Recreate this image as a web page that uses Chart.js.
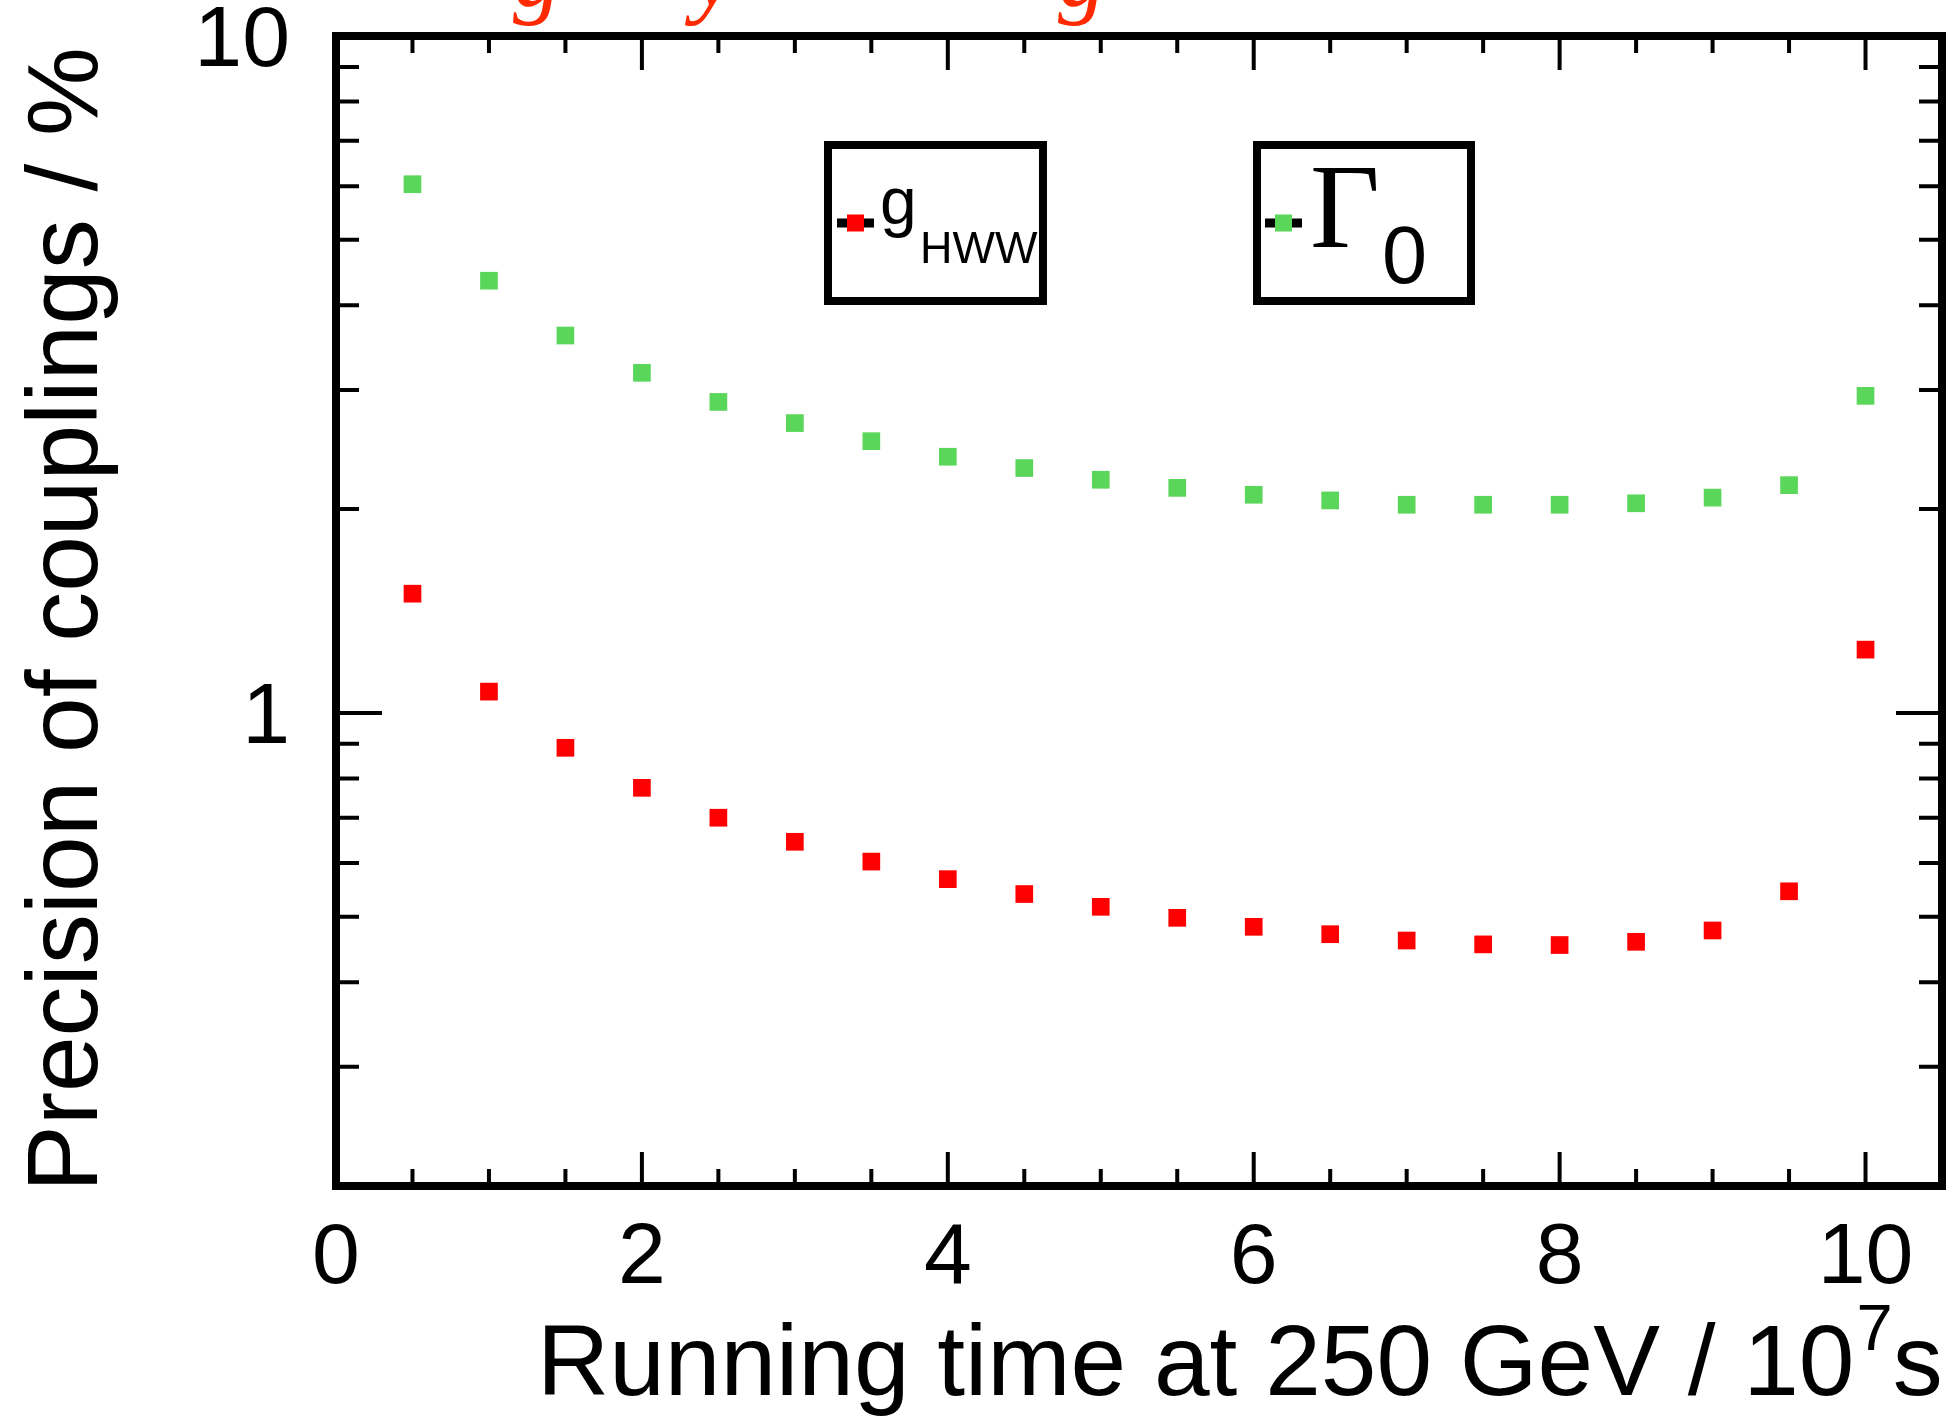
<!DOCTYPE html>
<html>
<head>
<meta charset="utf-8">
<script src="https://cdn.jsdelivr.net/npm/chart.js@4.4.0/dist/chart.umd.min.js"></script>
<style>
  html, body { margin: 0; padding: 0; background: #fff; }
  #plot { display: block; }
</style>
</head>
<body>
<canvas id="plot" width="1957" height="1417"></canvas>
<script>
// running time at 250 GeV, in units of 10^7 s
const runTime = [0.5, 1, 1.5, 2, 2.5, 3, 3.5, 4, 4.5, 5, 5.5, 6, 6.5, 7, 7.5, 8, 8.5, 9, 9.5, 10];
// precision in %
const gHWW   = [1.50, 1.075, 0.888, 0.775, 0.70, 0.645, 0.603, 0.568, 0.540, 0.517,
                0.498, 0.483, 0.471, 0.461, 0.455, 0.454, 0.459, 0.477, 0.545, 1.24];
const gamma0 = [6.04, 4.35, 3.61, 3.18, 2.88, 2.68, 2.52, 2.39, 2.30, 2.21,
                2.15, 2.10, 2.06, 2.03, 2.03, 2.03, 2.04, 2.08, 2.17, 2.94];

const xTicks = [0, 2, 4, 6, 8, 10];
const xMinor = [0.5, 1, 1.5, 2.5, 3, 3.5, 4.5, 5, 5.5, 6.5, 7, 7.5, 8.5, 9, 9.5, 10.5];
const yTicks = [1, 10];
const yMinor = [0.2, 0.3, 0.4, 0.5, 0.6, 0.7, 0.8, 0.9, 2, 3, 4, 5, 6, 7, 8, 9];

const RED = '#ff0000';
const GREEN = '#5ad65a';
const SANS = '"Liberation Sans", Arial, sans-serif';
const SERIF = '"Liberation Serif", "Times New Roman", serif';

// frame, inward ticks, titles, legend boxes
const decor = {
  id: 'decor',
  afterDraw(chart) {
    const ctx = chart.ctx;
    const a = chart.chartArea;
    const x = chart.scales.x, y = chart.scales.y;
    ctx.save();
    ctx.strokeStyle = '#000';

    // ticks
    ctx.lineWidth = 4;
    ctx.beginPath();
    const tx = (v, len) => {
      const px = x.getPixelForValue(v);
      ctx.moveTo(px, a.bottom); ctx.lineTo(px, a.bottom - len);
      ctx.moveTo(px, a.top); ctx.lineTo(px, a.top + len);
    };
    const ty = (v, len) => {
      const py = y.getPixelForValue(v);
      ctx.moveTo(a.left, py); ctx.lineTo(a.left + len, py);
      ctx.moveTo(a.right, py); ctx.lineTo(a.right - len, py);
    };
    xTicks.forEach(v => tx(v, 34));
    xMinor.forEach(v => tx(v, 17));
    yTicks.forEach(v => ty(v, 46));
    yMinor.forEach(v => ty(v, 23));
    ctx.stroke();

    // frame
    ctx.lineWidth = 8;
    ctx.strokeRect(a.left, a.top, a.right - a.left, a.bottom - a.top);

    // axis titles
    ctx.fillStyle = '#000';
    ctx.textBaseline = 'alphabetic';
    ctx.textAlign = 'left';
    ctx.font = '100px ' + SANS;
    let t = 'Running time at 250 GeV / 10';
    let xs = 537;
    ctx.fillText(t, xs, 1395);
    xs += ctx.measureText(t).width + 2;
    ctx.font = '65px ' + SANS;
    ctx.fillText('7', xs, 1350);
    xs += ctx.measureText('7').width;
    ctx.font = '100px ' + SANS;
    ctx.fillText('s', xs, 1395);

    ctx.save();
    ctx.translate(97, 1192);
    ctx.rotate(-Math.PI / 2);
    ctx.fillText('Precision of couplings / %', 0, 0);
    ctx.restore();

    // legend boxes
    ctx.lineWidth = 8;
    ctx.strokeRect(828, 145, 215, 156);
    ctx.strokeRect(1257, 145, 214, 156);
    const sym = (x0, x1, col) => {
      ctx.lineWidth = 9;
      ctx.beginPath(); ctx.moveTo(x0, 223); ctx.lineTo(x1, 223); ctx.stroke();
      const c = (x0 + x1) / 2;
      ctx.fillStyle = col;
      ctx.fillRect(c - 8.5, 223 - 8.5, 17, 17);
      ctx.fillStyle = '#000';
    };
    sym(837, 874, chart.data.datasets[0].backgroundColor);
    sym(1265, 1302, chart.data.datasets[1].backgroundColor);
    ctx.font = '66px ' + SANS;
    ctx.fillText('g', 880, 224);
    ctx.font = '45px ' + SANS;
    ctx.fillText('HWW', 920, 263);
    ctx.font = '121px ' + SERIF;
    ctx.fillText('\u0393', 1310, 247);
    ctx.font = '81px ' + SANS;
    ctx.fillText('0', 1382, 283);

    // cut-off red caption above the frame
    ctx.fillStyle = '#ff2a00';
    ctx.font = 'italic 96px ' + SERIF;
    ctx.fillText('g', 513, 6);
    ctx.fillText('y', 693, 6);
    ctx.fillText('g', 1058, 6);
    ctx.restore();
  }
};

new Chart(document.getElementById('plot'), {
  type: 'scatter',
  data: {
    datasets: [
      { label: 'gHWW', data: runTime.map((t, i) => ({ x: t, y: gHWW[i] })),
        backgroundColor: RED, borderWidth: 0, pointStyle: 'rect', pointRadius: 12.5, pointHoverRadius: 12.5 },
      { label: 'Gamma0', data: runTime.map((t, i) => ({ x: t, y: gamma0[i] })),
        backgroundColor: GREEN, borderWidth: 0, pointStyle: 'rect', pointRadius: 12.5, pointHoverRadius: 12.5 }
    ]
  },
  options: {
    responsive: false,
    animation: false,
    devicePixelRatio: 1,
    layout: { padding: { top: 36, right: 15, left: 0, bottom: 0 } },
    plugins: { legend: { display: false }, tooltip: { enabled: false } },
    scales: {
      x: {
        type: 'linear', min: 0, max: 10.5,
        grid: { display: false, drawTicks: false },
        border: { display: false },
        afterBuildTicks: s => { s.ticks = xTicks.map(v => ({ value: v })); },
        afterFit: s => { s.height = 1417 - 1186; s.paddingLeft = 0; s.paddingRight = 0; },
        ticks: { color: '#000', padding: 22, font: { family: SANS, size: 86 }, callback: v => String(v) }
      },
      y: {
        type: 'logarithmic', min: 0.2, max: 10,
        grid: { display: false, drawTicks: false },
        border: { display: false },
        afterBuildTicks: s => { s.ticks = yTicks.map(v => ({ value: v })); },
        afterFit: s => { s.width = 336; s.paddingTop = 0; s.paddingBottom = 0; },
        ticks: { color: '#000', padding: 46, labelOffset: 6, font: { family: SANS, size: 86 }, callback: v => String(v) }
      }
    }
  },
  plugins: [decor]
});
</script>
</body>
</html>
